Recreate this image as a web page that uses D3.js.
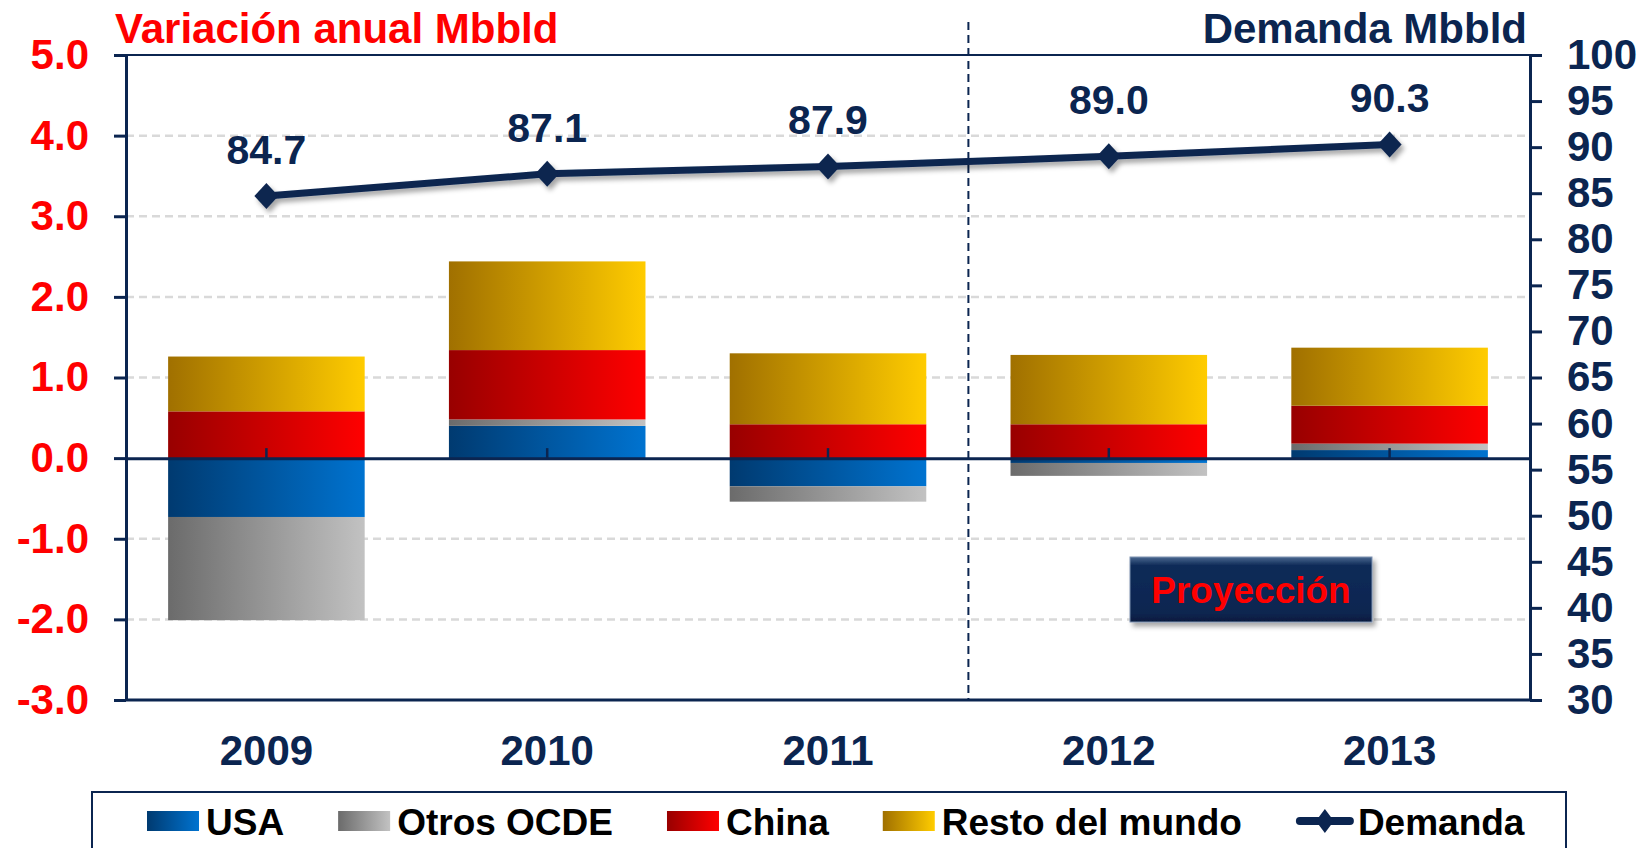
<!DOCTYPE html>
<html>
<head>
<meta charset="utf-8">
<title>Demanda mundial de petróleo</title>
<style>
  body { margin: 0; background: #fff; }
  svg { display: block; font-family: "Liberation Sans", Arial, sans-serif; font-weight: bold; }
</style>
</head>
<body>
<svg id="main" width="1651" height="848"></svg>
<script src="https://cdn.jsdelivr.net/npm/d3@7"></script>
<script>
const years = ['2009', '2010', '2011', '2012', '2013']
const usa = [-0.73, 0.40, -0.35, -0.06, 0.10]
const otrosOcde = [-1.28, 0.08, -0.19, -0.16, 0.08]
const china = [0.58, 0.86, 0.42, 0.42, 0.47]
const resto = [0.68, 1.10, 0.88, 0.86, 0.72]
const demanda = [84.7, 87.1, 87.9, 89.0, 90.3]
const leftTicks = [-3, -2, -1, 0, 1, 2, 3, 4, 5]
const rightTicks = [30, 35, 40, 45, 50, 55, 60, 65, 70, 75, 80, 85, 90, 95, 100]

const navy = '#0b2550'
const series = [
  { key: 'USA', values: usa, c0: '#003a70', c1: '#0073d0' },
  { key: 'Otros OCDE', values: otrosOcde, c0: '#6b6b6b', c1: '#c2c2c2' },
  { key: 'China', values: china, c0: '#980000', c1: '#ff0000' },
  { key: 'Resto del mundo', values: resto, c0: '#a07000', c1: '#ffcc00' }
]

const svg = d3.select('#main')
const margin = { top: 55, right: 121, bottom: 148, left: 126 }
const width = 1651, height = 848
const x0 = margin.left, x1 = width - margin.right
const yTop = margin.top, yBot = height - margin.bottom

const x = d3.scaleBand().domain(years).range([x0, x1]).paddingInner(0.3).paddingOuter(0.15)
const yL = d3.scaleLinear().domain([-3, 5]).range([yBot, yTop])
const yR = d3.scaleLinear().domain([30, 100]).range([yBot, yTop])

// hyphen instead of unicode minus, as in the original
const fmt1 = v => d3.format('.1f')(v).replace('\u2212', '-')

const defs = svg.append('defs')
series.forEach((s, i) => {
  const g = defs.append('linearGradient').attr('id', 'grad' + i)
    .attr('x1', 0).attr('x2', 1).attr('y1', 0).attr('y2', 0)
  g.append('stop').attr('offset', 0).attr('stop-color', s.c0)
  g.append('stop').attr('offset', 1).attr('stop-color', s.c1)
})
const sh = defs.append('filter').attr('id', 'shadow')
  .attr('x', '-10%').attr('y', '-30%').attr('width', '130%').attr('height', '180%')
sh.append('feDropShadow').attr('dx', 3).attr('dy', 4).attr('stdDeviation', 2.5)
  .attr('flood-color', '#000').attr('flood-opacity', 0.35)
const bev = defs.append('linearGradient').attr('id', 'bevel')
  .attr('x1', 0).attr('x2', 0).attr('y1', 0).attr('y2', 1)
bev.append('stop').attr('offset', 0).attr('stop-color', '#4a6890')
bev.append('stop').attr('offset', 0.13).attr('stop-color', '#0d2b58')
bev.append('stop').attr('offset', 0.87).attr('stop-color', '#0a2550')
bev.append('stop').attr('offset', 1).attr('stop-color', '#061a3c')

// gridlines
svg.append('g')
  .selectAll('line')
  .data(leftTicks.filter(t => t !== 0 && t !== 5 && t !== -3))
  .join('line')
  .attr('x1', x0).attr('x2', x1)
  .attr('y1', d => yL(d)).attr('y2', d => yL(d))
  .attr('stroke', '#d9d9d9').attr('stroke-width', 2.5).attr('stroke-dasharray', '8,5')

// stacked bars
const table = years.map((y, i) => {
  const row = { year: y }
  series.forEach(s => { row[s.key] = s.values[i] })
  return row
})
const stacked = d3.stack().keys(series.map(s => s.key)).offset(d3.stackOffsetDiverging)(table)

svg.append('g')
  .selectAll('g')
  .data(stacked)
  .join('g')
  .attr('fill', (d, i) => `url(#grad${i})`)
  .selectAll('rect')
  .data(d => d)
  .join('rect')
  .attr('x', d => x(d.data.year))
  .attr('width', x.bandwidth())
  .attr('y', d => yL(Math.max(d[0], d[1])))
  .attr('height', d => Math.abs(yL(d[0]) - yL(d[1])))

// frame
svg.append('line').attr('x1', x0).attr('x2', x1).attr('y1', yTop).attr('y2', yTop)
  .attr('stroke', navy).attr('stroke-width', 2)
svg.append('line').attr('x1', x0).attr('x2', x1).attr('y1', yBot).attr('y2', yBot)
  .attr('stroke', navy).attr('stroke-width', 3)

// projection divider
const divX = (x('2011') + x.bandwidth() + x('2012')) / 2
svg.append('line').attr('x1', divX).attr('x2', divX).attr('y1', 22).attr('y2', yBot)
  .attr('stroke', navy).attr('stroke-width', 2).attr('stroke-dasharray', '8,5')

// zero line with category ticks
const zeroAxis = svg.append('g')
  .attr('transform', `translate(0,${yL(0)})`)
  .call(d3.axisBottom(x).tickSize(-10).tickSizeOuter(0).tickFormat(''))
zeroAxis.select('.domain').attr('stroke', navy).attr('stroke-width', 3)
zeroAxis.selectAll('.tick line').attr('stroke', navy).attr('stroke-width', 2.5)

// left axis
const left = svg.append('g')
  .attr('transform', `translate(${x0},0)`)
  .call(d3.axisLeft(yL).tickValues(leftTicks).tickFormat(fmt1)
    .tickSize(12).tickSizeOuter(0).tickPadding(25))
left.select('.domain').attr('stroke', navy).attr('stroke-width', 3)
left.selectAll('.tick line').attr('stroke', navy).attr('stroke-width', 3)
left.selectAll('.tick text').attr('fill', '#ff0000').attr('font-size', 42)
  .attr('font-family', '"Liberation Sans", Arial, sans-serif').attr('font-weight', 'bold')

// right axis
const right = svg.append('g')
  .attr('transform', `translate(${x1},0)`)
  .call(d3.axisRight(yR).tickValues(rightTicks).tickSize(12).tickSizeOuter(0).tickPadding(25))
right.select('.domain').attr('stroke', navy).attr('stroke-width', 3)
right.selectAll('.tick line').attr('stroke', navy).attr('stroke-width', 3)
right.selectAll('.tick text').attr('fill', navy).attr('font-size', 42)
  .attr('font-family', '"Liberation Sans", Arial, sans-serif').attr('font-weight', 'bold')

// year labels
svg.append('g')
  .selectAll('text')
  .data(years)
  .join('text')
  .attr('x', d => x(d) + x.bandwidth() / 2)
  .attr('y', 765)
  .attr('text-anchor', 'middle')
  .attr('font-size', 42)
  .attr('fill', navy)
  .text(d => d)

// demand line
const pts = years.map((y, i) => [x(y) + x.bandwidth() / 2, yR(demanda[i])])
const lineG = svg.append('g').attr('filter', 'url(#shadow)')
lineG.append('path')
  .attr('d', d3.line()(pts))
  .attr('fill', 'none').attr('stroke', navy).attr('stroke-width', 7)
lineG.selectAll('path.mk')
  .data(pts)
  .join('path')
  .attr('class', 'mk')
  .attr('d', d => `M${d[0]},${d[1] - 13}L${d[0] + 12},${d[1]}L${d[0]},${d[1] + 13}L${d[0] - 12},${d[1]}Z`)
  .attr('fill', navy)

const labelShift = { '2012': -10 }
svg.append('g')
  .selectAll('text')
  .data(years)
  .join('text')
  .attr('x', d => x(d) + x.bandwidth() / 2)
  .attr('y', (d, i) => yR(demanda[i]) - 32 + (labelShift[d] || 0))
  .attr('text-anchor', 'middle')
  .attr('font-size', 41)
  .attr('fill', navy)
  .text((d, i) => fmt1(demanda[i]))

// titles
svg.append('text').attr('x', 115).attr('y', 43)
  .attr('font-size', 42).attr('fill', '#ff0000')
  .text('Variación anual Mbbld')
svg.append('text').attr('x', x1 - 3).attr('y', 43)
  .attr('text-anchor', 'end')
  .attr('font-size', 42).attr('fill', navy)
  .text('Demanda Mbbld')

// projection badge
const badge = svg.append('g')
badge.append('rect').attr('x', 1130).attr('y', 557).attr('width', 242).attr('height', 65)
  .attr('fill', 'url(#bevel)').attr('stroke', '#7f92b0').attr('stroke-width', 1)
  .attr('filter', 'url(#shadow)')
badge.append('text').attr('x', 1251).attr('y', 603)
  .attr('text-anchor', 'middle').attr('font-size', 37).attr('fill', '#ff0000')
  .text('Proyección')

// legend
const legend = svg.append('g')
legend.append('rect').attr('x', 92).attr('y', 792).attr('width', 1474).attr('height', 100)
  .attr('fill', 'none').attr('stroke', navy).attr('stroke-width', 2)

let lx = 147
series.forEach((s, i) => {
  legend.append('rect').attr('x', lx).attr('y', 811).attr('width', 52).attr('height', 20)
    .attr('fill', `url(#grad${i})`)
  const t = legend.append('text').attr('x', lx + 59).attr('y', 835)
    .attr('font-size', 37).attr('fill', '#000').text(s.key)
  lx += 59 + t.node().getComputedTextLength() + 54
})
const my = 821
legend.append('line').attr('x1', lx + 4).attr('x2', lx + 54).attr('y1', my).attr('y2', my)
  .attr('stroke', navy).attr('stroke-width', 8).attr('stroke-linecap', 'round')
const mx = lx + 29
legend.append('path')
  .attr('d', `M${mx},${my - 12}L${mx + 9},${my}L${mx},${my + 12}L${mx - 9},${my}Z`)
  .attr('fill', navy)
legend.append('text').attr('x', lx + 62).attr('y', 835)
  .attr('font-size', 37).attr('fill', '#000').text('Demanda')
</script>
</body>
</html>
